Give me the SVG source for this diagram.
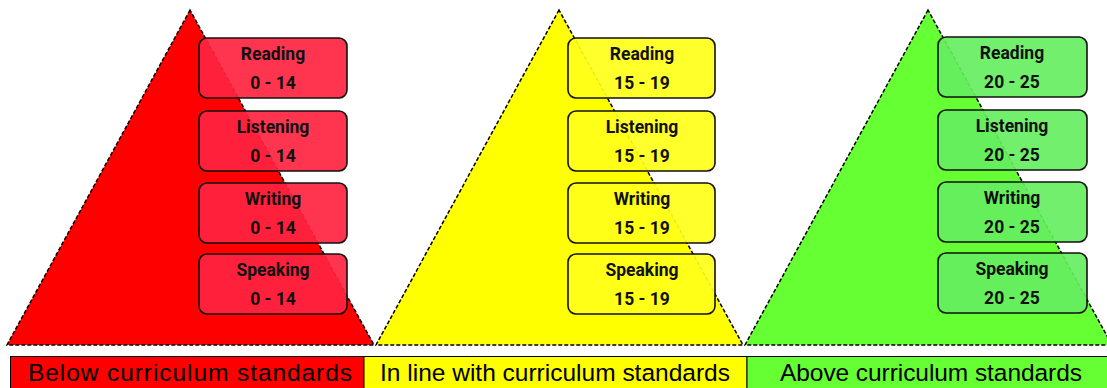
<svg xmlns="http://www.w3.org/2000/svg" width="1107" height="388" viewBox="0 0 1107 388">
<style>
.tri{stroke:#000;stroke-width:1.5;stroke-dasharray:4 2}
.box{stroke:#111;stroke-width:1.6}
.r{fill:#FF2440;fill-opacity:0.92}
.y{fill:#FFFF1A;fill-opacity:0.92}
.g{fill:#66EE60;fill-opacity:0.92}
.lbl{font-family:Roboto,"DejaVu Sans",sans-serif;font-weight:700;font-size:17.5px;fill:#111;text-anchor:middle}
.bar{stroke:#000;stroke-width:1}
.bt{font-family:"Liberation Sans",Arial,sans-serif;font-size:24.5px;fill:#000;text-anchor:middle}
</style>
<rect width="1107" height="388" fill="#fff"/>
<g id="triangles">
<polygon class="tri" points="190,10 7,345 374,345" fill="#FF0000"/>
<polygon class="tri" points="559,10 376,345 743,345" fill="#FFFF00"/>
<polygon class="tri" points="928,10 745,345 1112,345" fill="#66FF33"/>
</g>
<g id="red-boxes">
<g id="r-reading"><rect class="box r" x="199" y="38" width="148" height="60" rx="8"/><text class="lbl" x="273" y="60">Reading</text><text class="lbl" x="273" y="89">0 - 14</text></g>
<g id="r-listening"><rect class="box r" x="199" y="111" width="148" height="60" rx="8"/><text class="lbl" x="273" y="133">Listening</text><text class="lbl" x="273" y="162">0 - 14</text></g>
<g id="r-writing"><rect class="box r" x="199" y="183" width="148" height="60" rx="8"/><text class="lbl" x="273" y="205">Writing</text><text class="lbl" x="273" y="234">0 - 14</text></g>
<g id="r-speaking"><rect class="box r" x="199" y="254" width="148" height="60" rx="8"/><text class="lbl" x="273" y="276">Speaking</text><text class="lbl" x="273" y="305">0 - 14</text></g>
</g>
<g id="yellow-boxes">
<g id="y-reading"><rect class="box y" x="568" y="38" width="147" height="60" rx="8"/><text class="lbl" x="642" y="60">Reading</text><text class="lbl" x="642" y="89">15 - 19</text></g>
<g id="y-listening"><rect class="box y" x="568" y="111" width="147" height="60" rx="8"/><text class="lbl" x="642" y="133">Listening</text><text class="lbl" x="642" y="162">15 - 19</text></g>
<g id="y-writing"><rect class="box y" x="568" y="183" width="147" height="60" rx="8"/><text class="lbl" x="642" y="205">Writing</text><text class="lbl" x="642" y="234">15 - 19</text></g>
<g id="y-speaking"><rect class="box y" x="568" y="254" width="147" height="60" rx="8"/><text class="lbl" x="642" y="276">Speaking</text><text class="lbl" x="642" y="305">15 - 19</text></g>
</g>
<g id="green-boxes">
<g id="g-reading"><rect class="box g" x="938" y="37" width="149" height="60" rx="8"/><text class="lbl" x="1012" y="59">Reading</text><text class="lbl" x="1012" y="88">20 - 25</text></g>
<g id="g-listening"><rect class="box g" x="938" y="110" width="149" height="60" rx="8"/><text class="lbl" x="1012" y="132">Listening</text><text class="lbl" x="1012" y="161">20 - 25</text></g>
<g id="g-writing"><rect class="box g" x="938" y="182" width="149" height="60" rx="8"/><text class="lbl" x="1012" y="204">Writing</text><text class="lbl" x="1012" y="233">20 - 25</text></g>
<g id="g-speaking"><rect class="box g" x="938" y="253" width="149" height="60" rx="8"/><text class="lbl" x="1012" y="275">Speaking</text><text class="lbl" x="1012" y="304">20 - 25</text></g>
</g>
<g id="legend">
<rect class="bar" x="10.5" y="356.5" width="353.5" height="40" fill="#FF0000"/>
<rect class="bar" x="364" y="356.5" width="383" height="40" fill="#FFFF00"/>
<rect class="bar" x="747" y="356.5" width="370" height="40" fill="#66FF33"/>
<text class="bt" x="190" y="381" textLength="324" lengthAdjust="spacing">Below curriculum standards</text>
<text class="bt" x="555" y="381" textLength="350" lengthAdjust="spacing">In line with curriculum standards</text>
<text class="bt" x="931" y="381" textLength="302" lengthAdjust="spacing">Above curriculum standards</text>
</g>
</svg>
